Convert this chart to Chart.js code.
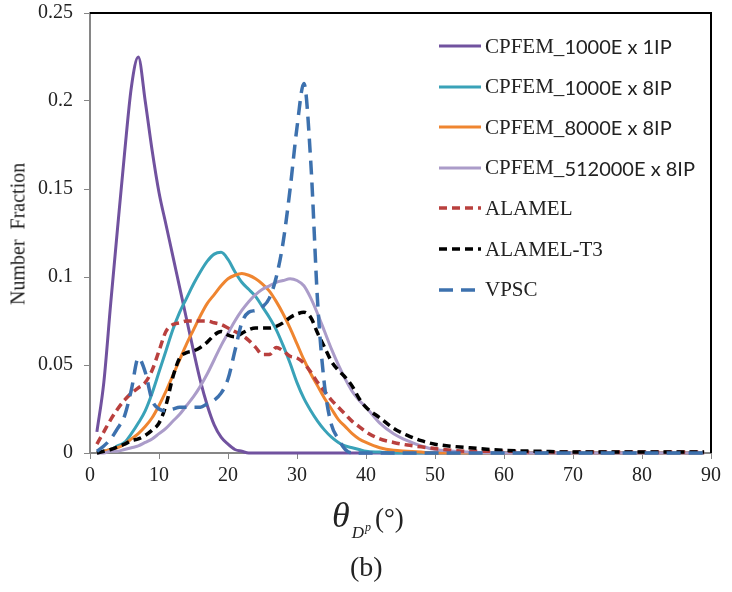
<!DOCTYPE html>
<html>
<head>
<meta charset="utf-8">
<script src="https://cdn.jsdelivr.net/npm/chart.js@4.4.1/dist/chart.umd.min.js"></script>
<style>
  body { margin: 0; background: #fff; }
  #wrap { position: relative; width: 732px; height: 592px; }
  #legend { position: absolute; left: 438px; top: 0; }
  .row { position: absolute; left: 0; height: 24px; white-space: nowrap; display: flex; align-items: center; }
  .row svg { margin-right: 3px; }
  .serif { font-family: "Liberation Serif", "Times New Roman", serif; font-size: 21px; color: #222; }
  .sans  { font-family: Lato, "Open Sans", sans-serif; font-size: 20px; color: #222; }
  #ytitle { position: absolute; left: 18px; top: 234px; transform: translate(-50%, -50%) rotate(-90deg);
            font-family: "Liberation Serif", serif; font-size: 20px; color: #222; white-space: nowrap; }
  #xtitle { position: absolute; left: 332px; top: 494px; font-family: "Liberation Serif", serif; color: #222; white-space: nowrap; }
  #xtitle .th { font-style: italic; font-size: 36px; }
  #xtitle .sub { font-style: italic; font-size: 17px; position: relative; top: 11px; margin-left: 2px; }
  #xtitle .sup { font-style: italic; font-size: 12px; position: relative; top: -7px; margin-left: 1px; }
  #xtitle .deg { font-size: 27px; margin-left: 4px; }
  #panel { position: absolute; left: 350px; top: 551px; font-family: "Liberation Serif", serif; font-size: 28px; color: #222; }
</style>
</head>
<body>
<div id="wrap">
  <canvas id="chart" width="732" height="592"></canvas>
  <div id="legend"></div>
  <div id="ytitle">Number&nbsp;&nbsp;Fraction</div>
  <div id="xtitle"><span class="th">θ</span><span class="sub">D<span class="sup">p</span></span><span class="deg">(°)</span></div>
  <div id="panel">(b)</div>
</div>
<script>
// ── misorientation distribution, panel (b) ────────────────────────────────

const angles = [1,2,3,4,5,6,7,8,9,10,11,12,13,14,15,16,17,18,19,20,
  21,22,23,24,25,26,27,28,29,30,31,32,33,34,35,36,37,38,39,40,
  42,44,46,48,50,55,60,65,70,75,80,85,89];

const cpfem1000x1 = [0.012,0.04,0.085,0.128,0.17,0.208,0.225,0.2,0.172,0.148,
  0.13,0.112,0.094,0.076,0.058,0.041,0.027,0.016,0.009,0.005,
  0.002,0.001,0,0,0,0,0,0,0,0, 0,0,0,0,0,0,0,0,0,0,
  0,0,0,0,0,0,0,0,0,0,0,0,0];

const cpfem1000x8 = [0,0.001,0.002,0.004,0.006,0.011,0.017,0.024,0.034,0.046,
  0.058,0.07,0.08,0.088,0.096,0.103,0.109,0.113,0.114,0.11,
  0.103,0.097,0.093,0.089,0.083,0.077,0.07,0.061,0.051,0.04,
  0.031,0.024,0.018,0.013,0.009,0.006,0.004,0.003,0.002,0.001,
  0.0005,0,0,0,0,0,0,0,0,0,0,0,0];

const cpfem8000x8 = [0,0.001,0.002,0.003,0.005,0.008,0.011,0.015,0.02,0.027,
  0.035,0.044,0.053,0.062,0.07,0.078,0.085,0.09,0.095,0.099,
  0.101,0.102,0.101,0.099,0.096,0.092,0.086,0.079,0.071,0.062,
  0.053,0.045,0.038,0.031,0.025,0.019,0.015,0.011,0.008,0.006,
  0.003,0.0015,0.001,0.0005,0,0,0,0,0,0,0,0,0];

const cpfem512000x8 = [0,0,0.001,0.001,0.002,0.003,0.004,0.006,0.008,0.011,
  0.014,0.018,0.022,0.027,0.032,0.038,0.045,0.053,0.061,0.068,
  0.075,0.081,0.086,0.09,0.093,0.095,0.097,0.098,0.099,0.098,
  0.095,0.088,0.079,0.069,0.059,0.05,0.042,0.035,0.03,0.026,
  0.017,0.011,0.007,0.004,0.002,0.0005,0,0,0,0,0,0,0];

const alamel = [0.005,0.012,0.019,0.025,0.03,0.034,0.037,0.04,0.047,0.058,
  0.069,0.073,0.074,0.075,0.075,0.075,0.075,0.074,0.073,0.071,
  0.069,0.067,0.064,0.06,0.056,0.056,0.06,0.058,0.055,0.054,
  0.051,0.046,0.04,0.035,0.03,0.026,0.022,0.018,0.015,0.012,
  0.008,0.006,0.0045,0.0035,0.0025,0.001,0.001,0.0005,0.0005,0.0005,0.0005,0.0005,0.0005];

const alamelT3 = [0,0.001,0.002,0.0035,0.005,0.007,0.008,0.01,0.013,0.017,
  0.027,0.043,0.054,0.057,0.058,0.06,0.063,0.067,0.069,0.067,
  0.066,0.068,0.07,0.071,0.071,0.071,0.072,0.074,0.077,0.079,
  0.08,0.077,0.068,0.06,0.052,0.047,0.043,0.038,0.031,0.026,
  0.02,0.014,0.01,0.007,0.005,0.003,0.0015,0.001,0.0005,0.0005,0.0005,0.0005,0.0005];

const vpsc = [0.001,0.004,0.008,0.014,0.021,0.036,0.054,0.046,0.03,0.025,
  0.024,0.025,0.026,0.026,0.026,0.026,0.028,0.03,0.034,0.042,
  0.058,0.074,0.08,0.081,0.083,0.088,0.1,0.12,0.15,0.185,
  0.21,0.165,0.085,0.038,0.016,0.008,0.002,0,0,0,
  0,0,0,0,0,0,0,0,0,0,0,0,0];

const seriesNames = ['CPFEM_1000E x 1IP', 'CPFEM_1000E x 8IP', 'CPFEM_8000E x 8IP',
  'CPFEM_512000E x 8IP', 'ALAMEL', 'ALAMEL-T3', 'VPSC'];
const seriesData  = [cpfem1000x1, cpfem1000x8, cpfem8000x8, cpfem512000x8, alamel, alamelT3, vpsc];

const COLORS = ['#71529f', '#39a2b8', '#ef8530', '#ab9cc9', '#b9403e', '#000000', '#3d71ae'];
const DASHES = [[], [], [], [], [8, 5], [8, 5], [14, 8]];
const WIDTHS = [3, 3, 3, 3, 3.5, 3.5, 3.5];

const AXIS_GRAY = '#868686';
const FONT_TICK = { family: 'Liberation Serif', size: 20 };

const datasets = seriesData.map((vals, i) => ({
  label:           seriesNames[i],
  data:            vals.map((v, k) => ({ x: angles[k], y: v })),
  borderColor:     COLORS[i],
  borderDash:      DASHES[i],
  borderWidth:     WIDTHS[i],
  pointRadius:     0,
  cubicInterpolationMode: 'monotone',
  fill:  false,
  clip:  false,
  order: seriesData.length - i
}));

// black frame on top and right of the plot area
const frame = {
  id: 'frame',
  beforeDatasetsDraw(chart) {
    const { ctx, chartArea: a } = chart;
    ctx.save();
    ctx.strokeStyle = '#000';
    ctx.lineWidth = 2;
    ctx.beginPath();
    ctx.moveTo(a.left, a.top);
    ctx.lineTo(a.right, a.top);
    ctx.lineTo(a.right, a.bottom);
    ctx.stroke();
    ctx.restore();
  }
};

new Chart(document.getElementById('chart'), {
  type: 'line',
  data: { datasets },
  options: {
    responsive: false,
    animation:  false,
    layout: { padding: { top: 13, right: 21, left: 0, bottom: 0 } },
    plugins: { legend: { display: false }, tooltip: { enabled: false } },
    scales: {
      x: {
        type: 'linear', min: 0, max: 90,
        ticks:  { stepSize: 10, color: '#222', font: FONT_TICK, padding: 5, maxRotation: 0 },
        grid:   { drawOnChartArea: false, color: AXIS_GRAY, tickLength: 6 },
        border: { color: AXIS_GRAY, width: 2 },
        afterFit(s) { s.height = 139; s.paddingLeft = 0; s.paddingRight = 0; }
      },
      y: {
        min: 0, max: 0.25,
        ticks:  { stepSize: 0.05, color: '#222', font: FONT_TICK, padding: 11,
                  callback: v => String(+v.toFixed(2)) },
        grid:   { drawOnChartArea: false, color: AXIS_GRAY, tickLength: 6 },
        border: { color: AXIS_GRAY, width: 2 },
        afterFit(s) { s.width = 90; s.paddingTop = 0; s.paddingBottom = 0; }
      }
    }
  },
  plugins: [frame]
});

// legend with the two type faces of the original
const legend = document.getElementById('legend');
seriesNames.forEach((name, i) => {
  const row = document.createElement('div');
  row.className = 'row';
  row.style.top = (46 + i * 40.6 - 12) + 'px';
  const dash = DASHES[i].length ? `stroke-dasharray="${DASHES[i].join(' ')}"` : '';
  row.innerHTML = `<svg width="44" height="10"><line x1="1" y1="5" x2="43" y2="5" stroke="${COLORS[i]}" stroke-width="${WIDTHS[i]}" ${dash}/></svg>`;
  const cut = name.indexOf('_');
  if (cut >= 0) {
    row.innerHTML += `<span class="serif">${name.slice(0, cut + 1)}</span><span class="sans">${name.slice(cut + 1)}</span>`;
  } else {
    row.innerHTML += `<span class="serif">${name}</span>`;
  }
  legend.appendChild(row);
});
</script>
</body>
</html>
